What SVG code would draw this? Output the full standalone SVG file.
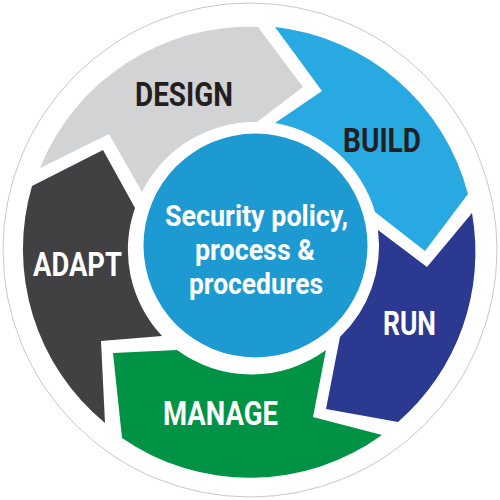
<svg xmlns="http://www.w3.org/2000/svg" width="500" height="500" viewBox="0 0 500 500">
<style>
.lbl{font-family:Roboto,"Liberation Sans",sans-serif;font-weight:bold;font-size:34px}
.dark{fill:#231f20}
.light{fill:#ffffff}
.ctr{font-family:Roboto,"Liberation Sans",sans-serif;font-weight:bold;font-size:30px;fill:#ffffff}
</style>
<circle cx="250" cy="250" r="247" fill="#ffffff" stroke="#c8c8c8" stroke-width="1"/>
<g id="connectors"></g>
<g id="design">
<path d="M40,168 A225,225 0 0 1 258,27 L303,87 L257,122 A126,126 0 0 0 142,192 L109,134 Z" fill="#d1d3d4"/>
<text class="lbl dark" x="135" y="106" textLength="98" lengthAdjust="spacingAndGlyphs">DESIGN</text>
</g>
<g id="build">
<path d="M275,27 A225,225 0 0 1 468,194 L425,251 L375,212 A126,126 0 0 0 275,123 L322,91 Z" fill="#29a9e1"/>
<text class="lbl dark" x="343" y="152" textLength="78" lengthAdjust="spacingAndGlyphs">BUILD</text>
</g>
<g id="run">
<path d="M472,213 A225,225 0 0 1 398,422 L326,409 L340,337 A126,126 0 0 0 378,230 L427,267 Z" fill="#2b3990"/>
<text class="lbl light" x="383" y="335" textLength="53" lengthAdjust="spacingAndGlyphs">RUN</text>
</g>
<g id="manage">
<path d="M382,435 A225,225 0 0 1 122,438 L113,353 L177,350 A126,126 0 0 0 326,350 L313,417 Z" fill="#009345"/>
<text class="lbl light" x="163" y="425" textLength="115" lengthAdjust="spacingAndGlyphs">MANAGE</text>
</g>
<g id="adapt">
<path d="M105,423 A225,225 0 0 1 32,186 L103,150 L135,208 A126,126 0 0 0 162,336 L101,341 Z" fill="#414042"/>
<text class="lbl light" x="33" y="276" textLength="89" lengthAdjust="spacingAndGlyphs">ADAPT</text>
</g>
<g id="center">
<circle cx="255.5" cy="245.5" r="112" fill="#1d9ad1"/>
<text class="ctr" x="165" y="226" textLength="183" lengthAdjust="spacingAndGlyphs">Security policy,</text>
<text class="ctr" x="195" y="260" textLength="120" lengthAdjust="spacingAndGlyphs">process &amp;</text>
<text class="ctr" x="189" y="294" textLength="134" lengthAdjust="spacingAndGlyphs">procedures</text>
</g>
</svg>
